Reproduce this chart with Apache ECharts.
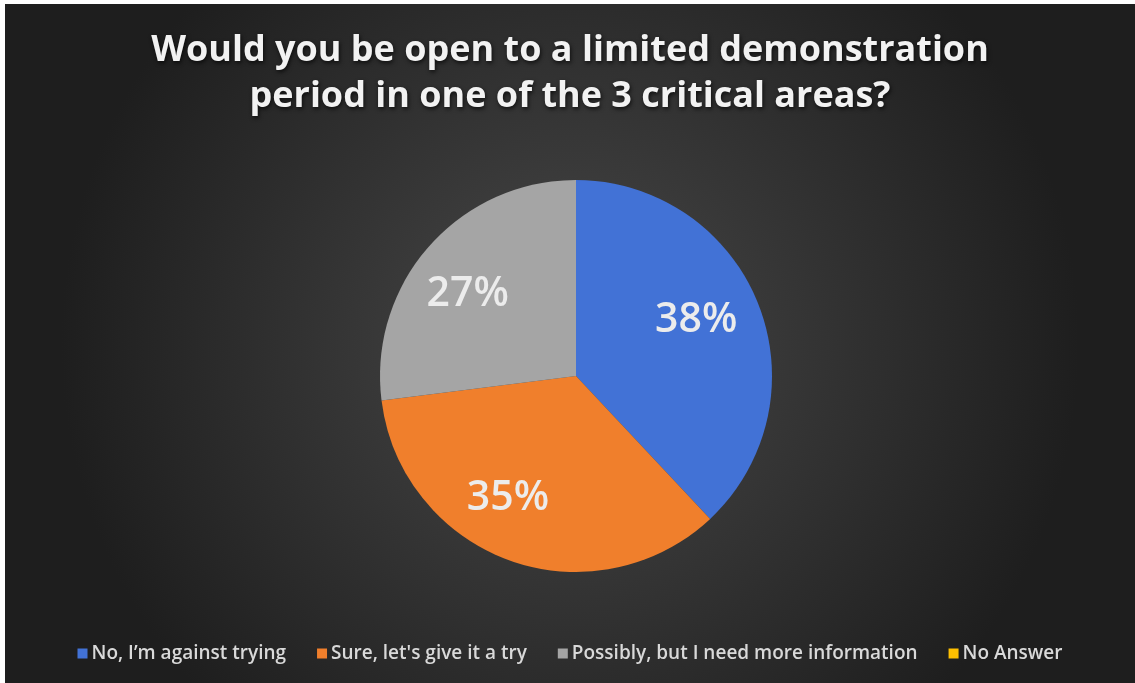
<!DOCTYPE html>
<html><head><meta charset="utf-8">
<script src="https://cdn.jsdelivr.net/npm/echarts@6/dist/echarts.min.js"></script>
<style>
html,body{margin:0;padding:0;background:#fff;}
#c{position:absolute;left:5px;top:4px;width:1130px;height:679px;}
</style></head>
<body><div id="c"></div>
<script>
const titleText = 'Would you be open to a limited demonstration\nperiod in one of the 3 critical areas?';
const categories = ['No, I\u2019m against trying', 'Sure, let\'s give it a try', 'Possibly, but I need more information', 'No Answer'];
const values = [38, 35, 27, 0];
const colors = ['#4272d6', '#f07f2c', '#a5a5a5', '#ffc000'];
const labelOffsets = [[-9, -5], [-21, -8], [-4, 10], [0, 0]];

const chart = echarts.init(document.getElementById('c'));
const data = categories.map((n, i) => ({name: n, value: values[i], itemStyle: {color: colors[i]}}));
chart.setOption({
  backgroundColor: {
    type: 'radial', x: 0.5, y: 0.5, r: 0.75,
    colorStops: [{offset: 0, color: '#484848'}, {offset: 1, color: '#1e1e1e'}]
  },
  title: {
    text: titleText, left: 'center', top: 19,
    textStyle: {color: '#f2f2f2', fontFamily: 'Open Sans', fontWeight: 'bold', fontSize: 36, lineHeight: 46,
      textShadowColor: 'rgba(0,0,0,0.7)', textShadowBlur: 4, textShadowOffsetX: 1, textShadowOffsetY: 2}
  },
  legend: {
    bottom: 15, left: 'center', itemWidth: 10, itemHeight: 10, itemGap: 31, icon: 'rect',
    data: categories,
    textStyle: {color: '#d9d9d9', fontFamily: 'Open Sans', fontWeight: 600, fontSize: 19, padding: [0, 0, 0, -1]}
  },
  series: [{
    type: 'pie', center: [571, 372], radius: 196, startAngle: 90, clockwise: true,
    label: {show: false}, labelLine: {show: false}, emphasis: {disabled: true},
    data: data
  }, {
    type: 'pie', center: [571, 372], radius: [76, 196], startAngle: 90, clockwise: true, silent: true,
    itemStyle: {color: 'rgba(0,0,0,0)'},
    label: {show: true, position: 'inside', formatter: p => p.value > 0 ? p.value + '%' : '',
      color: '#ececec', fontFamily: 'Open Sans', fontWeight: 600, fontSize: 41},
    labelLine: {show: false}, emphasis: {disabled: true},
    data: categories.map((n, i) => ({name: n, value: values[i], label: {offset: labelOffsets[i]}}))
  }]
});
</script></body></html>
